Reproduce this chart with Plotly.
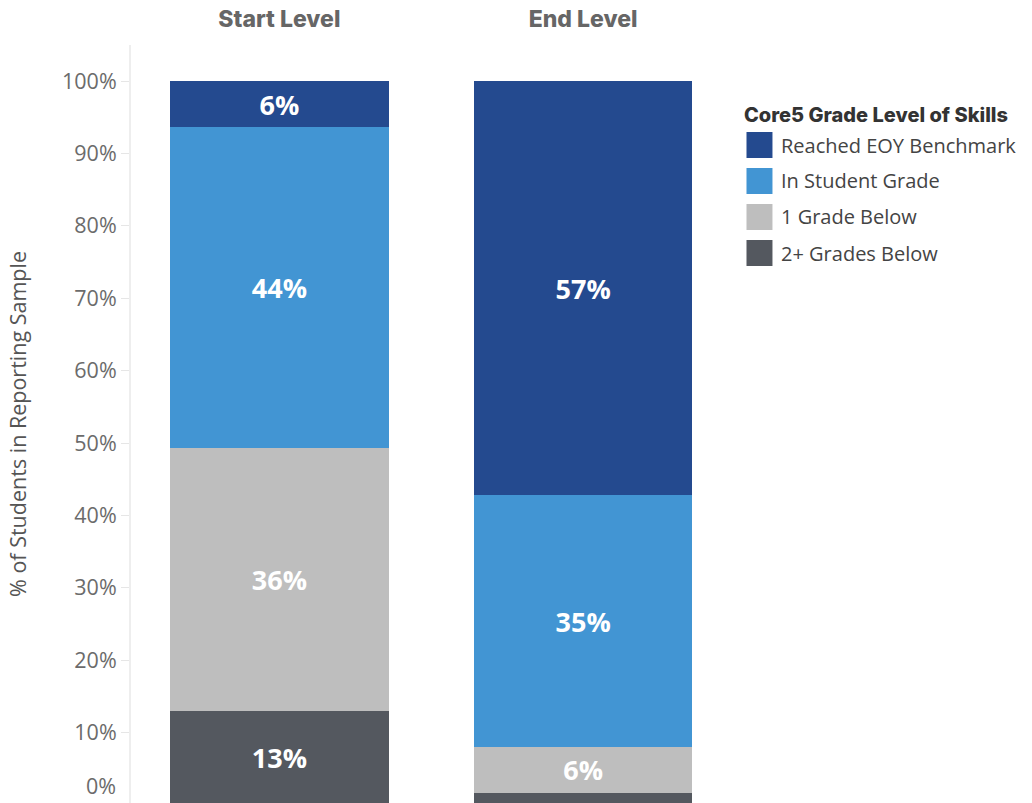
import plotly.graph_objects as go

categories = ["Start Level", "End Level"]
series_names = ["2+ Grades Below", "1 Grade Below", "In Student Grade", "Reached EOY Benchmark"]
two_below = [13.0, 1.7]
one_below = [36.3, 6.3]
in_grade = [44.3, 34.8]
reached = [6.4, 57.2]
colors = ["#54585F", "#BEBEBE", "#4295D3", "#244A8F"]
y_ticks = [10, 20, 30, 40, 50, 60, 70, 80, 90, 100]
legend_order = ["Reached EOY Benchmark", "In Student Grade", "1 Grade Below", "2+ Grades Below"]

W, H = 1032, 803
L, R, T, B = 131, 296.5, 45, 0
pw = W - L - R
ph = H - T - B


def px_x(px):
    return (px - L) / pw


def px_y(py):
    return (H - B - py) / ph


fig = go.Figure()
values = [two_below, one_below, in_grade, reached]
for name, vals, col in zip(series_names, values, colors):
    fig.add_trace(go.Bar(
        x=categories, y=vals, name=name,
        marker=dict(color=col, line=dict(width=0)),
        text=[f"{round(v)}%" if v >= 3 else "" for v in vals],
        textposition="inside", insidetextanchor="middle", textangle=0,
        textfont=dict(family="Open Sans", size=27, color="white", weight=700),
        showlegend=False, hoverinfo="skip",
    ))

# manual legend
shapes = []
annotations = []
annotations.append(dict(
    text="Core5 Grade Level of Skills", xref="paper", yref="paper",
    x=px_x(743), y=px_y(115), xanchor="left", yanchor="middle", showarrow=False,
    font=dict(family="Inter", size=20, color="#333333", weight=800),
))
color_map = dict(zip(series_names, colors))
for i, name in enumerate(legend_order):
    top = 132 + 36 * i
    shapes.append(dict(
        type="rect", xref="paper", yref="paper",
        x0=px_x(747), x1=px_x(773), y0=px_y(top + 26), y1=px_y(top),
        fillcolor=color_map[name], line=dict(width=0),
    ))
    annotations.append(dict(
        text=name, xref="paper", yref="paper",
        x=px_x(780), y=px_y(top + 13), xanchor="left", yanchor="middle", showarrow=False,
        font=dict(family="Open Sans", size=20, color="#444444"),
    ))

# 0% label (shifted up to stay visible)
annotations.append(dict(
    text="0%", xref="paper", yref="paper", x=0, y=px_y(802), xanchor="right", yanchor="bottom",
    xshift=-13, showarrow=False,
    font=dict(family="Open Sans", size=21.5, color="#6b6b6b"),
))

fig.update_layout(
    width=W, height=H,
    margin=dict(l=L, r=R, t=T, b=B, pad=0),
    barmode="stack", bargap=0.28,
    plot_bgcolor="white", paper_bgcolor="white",
    shapes=shapes, annotations=annotations,
    uniformtext=dict(minsize=20, mode="hide"),
    xaxis=dict(
        side="top", range=[-0.4885, 1.5], showgrid=False, showline=False, ticks="",
        tickfont=dict(family="Inter", size=23, color="#666666", weight=800),
        ticklabelstandoff=12,
        automargin=False,
    ),
    yaxis=dict(
        range=[2 / 7.24, 100 + 36 / 7.24], tickvals=y_ticks,
        ticktext=[f"{v}%" for v in y_ticks],
        showgrid=False, zeroline=False, showline=True, linecolor="#eeeeee", linewidth=2,
        ticks="outside", ticklen=8, tickcolor="#e6e6e6", tickwidth=1,
        tickfont=dict(family="Open Sans", size=21.5, color="#6b6b6b"),
        title=dict(text="% of Students in Reporting Sample", standoff=30,
                   font=dict(family="Open Sans", size=21.5, color="#555555")),
        automargin=False,
    ),
)

fig.write_html("out.html", config={"displayModeBar": False},
               post_script="document.body.style.margin='0';document.body.style.overflow='hidden';")
